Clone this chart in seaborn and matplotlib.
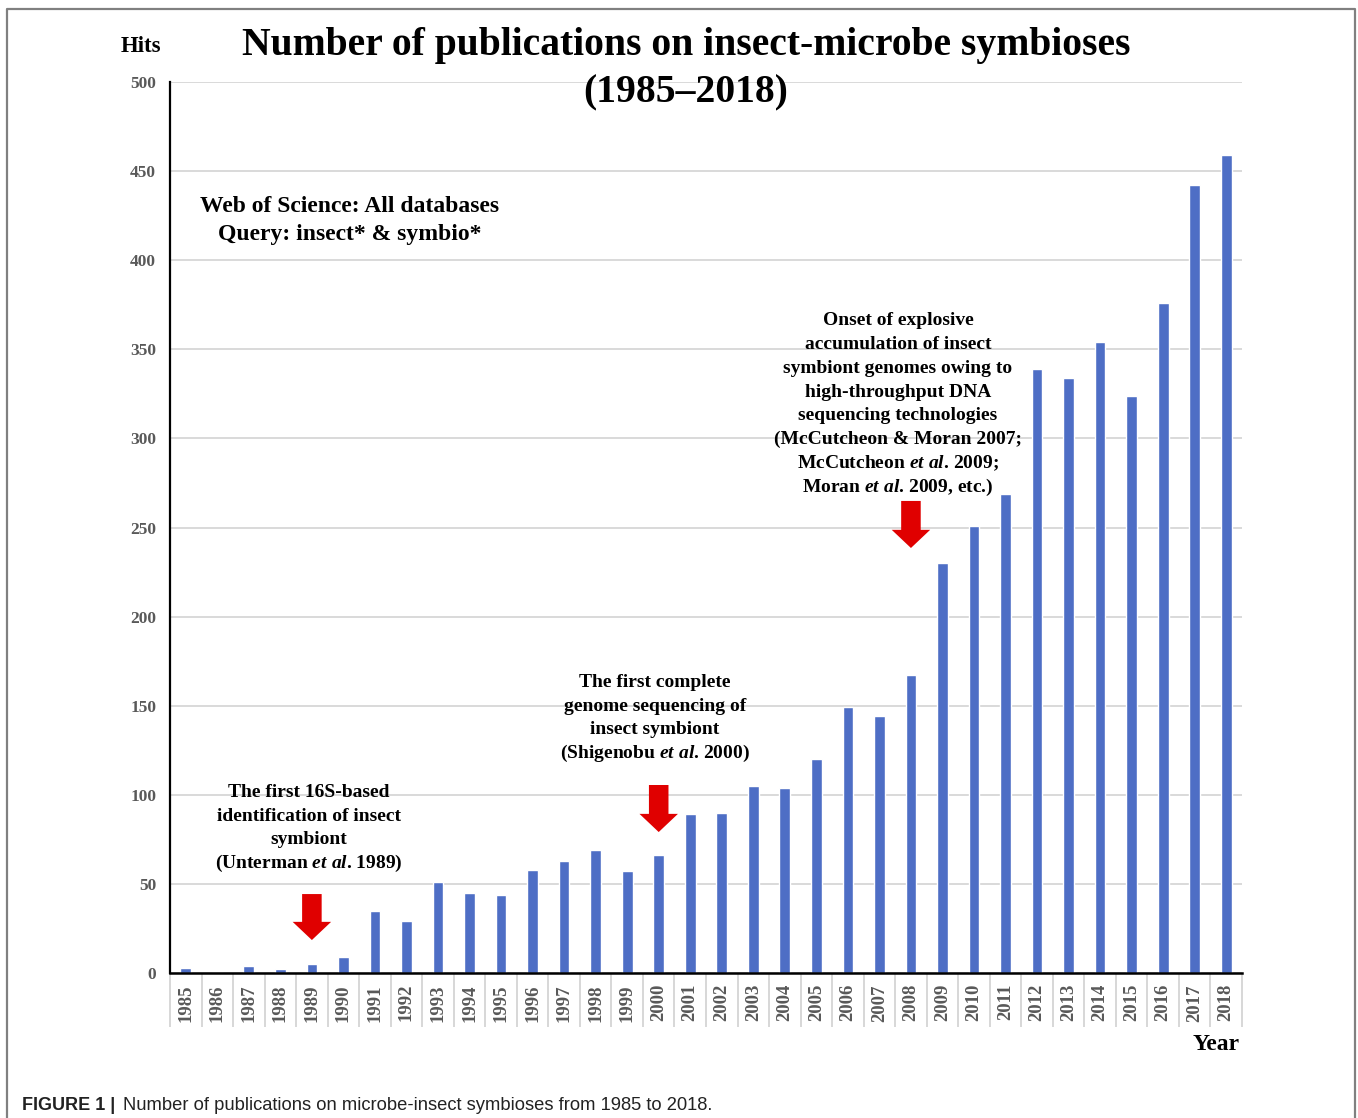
import numpy as np
import pandas as pd
import matplotlib
matplotlib.use("Agg")
import matplotlib.pyplot as plt
from matplotlib.patches import FancyArrow
from matplotlib.lines import Line2D
import seaborn as sns

# Publication counts per year (Web of Science, insect* & symbio*)
years = [str(y) for y in range(1985, 2019)]
hits = [3, 0, 4, 2, 5, 9, 35, 29, 51, 45, 44, 58, 63, 69, 57, 66,
        89, 90, 105, 104, 120, 149, 144, 167, 230, 251, 269, 339,
        334, 354, 324, 376, 442, 459]
y_ticks = [0, 50, 100, 150, 200, 250, 300, 350, 400, 450, 500]

sns.set_theme(style="white")
plt.rcParams["font.family"] = ["Liberation Serif", "DejaVu Serif"]
plt.rcParams["mathtext.fontset"] = "custom"
plt.rcParams["mathtext.rm"] = "Liberation Serif:bold"
plt.rcParams["mathtext.it"] = "Liberation Serif:italic:bold"
plt.rcParams["mathtext.bf"] = "Liberation Serif:bold"

W, H = 1358, 1118
fig = plt.figure(figsize=(W / 100, H / 100), dpi=100)
fig.patch.set_facecolor("white")
ax = fig.add_axes([170 / W, 1 - 973 / H, (1242 - 170) / W, (973 - 82) / H])

df = pd.DataFrame({"year": years, "hits": hits})
sns.barplot(data=df, x="year", y="hits", color="#4e6ec5", saturation=1,
            width=0.34, ax=ax, zorder=3)

ax.set_xlim(-0.5, len(years) - 0.5)
ax.set_ylim(0, 500)
ax.set_yticks(y_ticks)
ax.yaxis.grid(True, color="#d9d9d9", lw=1.4, zorder=0)
ax.set_axisbelow(True)
for s in ["top", "right"]:
    ax.spines[s].set_visible(False)
ax.spines["left"].set_color("black")
ax.spines["left"].set_linewidth(1.6)
ax.spines["bottom"].set_color("black")
ax.spines["bottom"].set_linewidth(1.8)
ax.spines["bottom"].set_zorder(5)
ax.set_xlabel("")
ax.set_ylabel("")

tick_color = "#595959"
ax.tick_params(axis="y", length=0, pad=10, labelsize=12.5, labelcolor=tick_color)
ax.tick_params(axis="x", which="major", length=0, pad=8, labelsize=13.5,
               labelcolor=tick_color, labelrotation=90)
for lab in ax.get_yticklabels() + ax.get_xticklabels():
    lab.set_fontweight("bold")

# category separators below the axis
ax.set_xticks(np.arange(-0.5, len(years)), minor=True)
ax.tick_params(axis="x", which="minor", direction="out", length=39,
               width=1.3, color="#d4d4d4", bottom=True)

# axis titles
fig.text(141 / W, 1 - 47 / H, "Hits", ha="center", va="center",
         fontsize=16.5, fontweight="bold", color="black")
fig.text(1240 / W, 1 - 1044 / H, "Year", ha="right", va="center",
         fontsize=17, fontweight="bold", color="black")

# title, one line at a time
for txt, base_px in [("Number of publications on insect-microbe symbioses", 55),
                     ("(1985\u20132018)", 102)]:
    fig.text(686 / W, 1 - base_px / H, txt, ha="center", va="baseline",
             fontsize=28.5, fontweight="bold", color="black")


def text_block(x, y, lines, size, step_pt):
    """Centred block of lines, first baseline at (x, y) in data units."""
    for i, line in enumerate(lines):
        ax.annotate(line, xy=(x, y), xytext=(0, -i * step_pt),
                    textcoords="offset points", ha="center", va="baseline",
                    fontsize=size, fontweight="bold", color="black",
                    zorder=6, annotation_clip=False)


# database note
text_block(5.21, 427.0, ["Web of Science: All databases",
                         "Query: insect* & symbio*"], 17, 20.2)

# milestone notes
text_block(3.91, 98.8, ["The first 16S-based", "identification of insect",
                        "symbiont", "(Unterman $\\mathit{et\\ al}$. 1989)"],
           14, 17.06)
text_block(14.88, 160.5, ["The first complete", "genome sequencing of",
                          "insect symbiont",
                          "(Shigenobu $\\mathit{et\\ al}$. 2000)"],
           14, 17.06)
text_block(22.59, 363.6, ["Onset of explosive", "accumulation of insect",
                          "symbiont genomes owing to", "high-throughput DNA",
                          "sequencing technologies",
                          "(McCutcheon & Moran 2007;",
                          "McCutcheon $\\mathit{et\\ al}$. 2009;",
                          "Moran $\\mathit{et\\ al}$. 2009, etc.)"],
           14, 17.15)

# red arrows pointing at milestone years
arrows = [("1989", 44.3, 18.5), ("2000", 105.5, 79.1), ("2008", 264.9, 238.5)]
for yr, top, bottom in arrows:
    xi = years.index(yr)
    ax.add_patch(FancyArrow(xi, top, 0, bottom - top, width=0.62,
                            head_width=1.22, head_length=10.2,
                            length_includes_head=True, color="#e00000",
                            lw=0, zorder=6))

# frame around the figure panel
fig.add_artist(Line2D([7 / W, 7 / W, 1355 / W, 1355 / W],
                      [0, 1 - 9 / H, 1 - 9 / H, 0],
                      transform=fig.transFigure, color="#808080", lw=1.6))

# caption
fig.text(22 / W, 1 - 1105 / H, "FIGURE 1 |", ha="left", va="center",
         fontsize=13, fontweight="bold", color="#222222",
         family=["Liberation Sans", "DejaVu Sans"])
fig.text(123 / W, 1 - 1105 / H,
         "Number of publications on microbe-insect symbioses from 1985 to 2018.",
         ha="left", va="center", fontsize=13.2, color="#222222",
         family=["Liberation Sans", "DejaVu Sans"])

fig.savefig("out.png", dpi=100, facecolor="white")
